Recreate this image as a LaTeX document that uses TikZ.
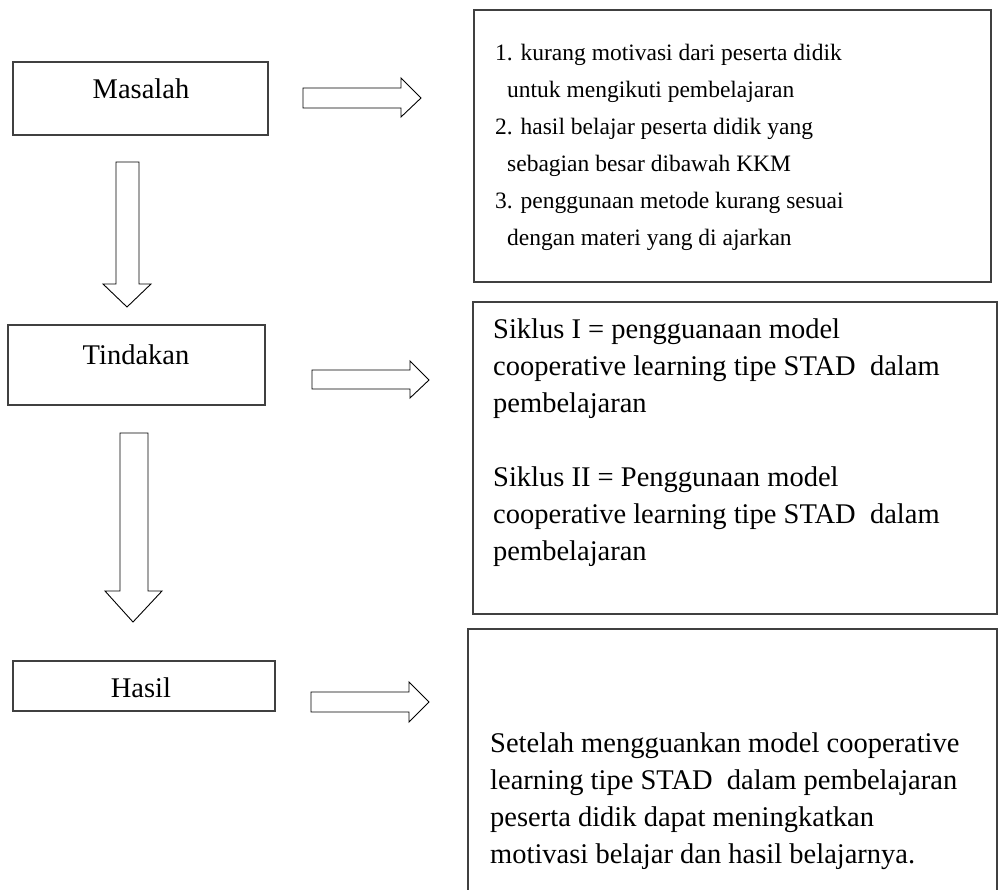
\documentclass[tikz,border=0pt]{standalone}
\usepackage{fontspec}
\setmainfont{Liberation Serif}
\begin{document}
\begin{tikzpicture}[x=1pt,y=-1pt,
  box/.style={draw=black!75, line width=1.4pt, outer sep=0pt, inner sep=0pt, anchor=north west},
  blockarrow/.style={draw=black, line width=0.9pt, fill=white, line join=miter},
  lbl/.style={font=\fontsize{28.5}{37}\selectfont, inner sep=0pt, anchor=base},
  para/.style={font=\fontsize{28.5}{37}\selectfont, inner sep=0pt, anchor=north west, align=left},
  smallpara/.style={para, font=\fontsize{23.5}{37}\selectfont}]
\clip (0,0) rectangle (998,890);
% left boxes
\node[box, minimum width=255pt, minimum height=73pt] (masalah) at (13,62) {};
\node[box, minimum width=257pt, minimum height=80pt] (tindakan) at (8,325) {};
\node[box, minimum width=262pt, minimum height=50pt] (hasil) at (13,661) {};
\node[lbl] (masalahT) at (141,99) {Masalah};
\node[lbl] (tindakanT) at (136,364) {Tindakan};
\node[lbl] (hasilT) at (141,697) {Hasil};
% right boxes
\node[box, minimum width=517pt, minimum height=272pt] (b1) at (474,10) {};
\node[box, minimum width=524pt, minimum height=312pt] (b2) at (473,302) {};
\node[box, minimum width=529pt, minimum height=280pt] (b3) at (468,629) {};
\node[smallpara] (b1T) at (495,36) {\rule{0pt}{24pt}1. kurang motivasi dari peserta didik\\
\hspace*{12pt}untuk mengikuti pembelajaran\\
2. hasil belajar peserta didik yang\\
\hspace*{12pt}sebagian besar dibawah KKM\\
3. penggunaan metode kurang sesuai\\
\hspace*{12pt}dengan materi yang di ajarkan};
\node[para] (b2T) at (493,314) {\rule{0pt}{24pt}Siklus I = pengguanaan model\\
cooperative learning tipe STAD\ \ dalam\\
pembelajaran\\[37pt]
Siklus II = Penggunaan model\\
cooperative learning tipe STAD\ \ dalam\\
pembelajaran};
\node[para] (b3T) at (490,728) {\rule{0pt}{24pt}Setelah mengguankan model cooperative\\
learning tipe STAD\ \ dalam pembelajaran\\
peserta didik dapat meningkatkan\\
motivasi belajar dan hasil belajarnya.};
% block arrows right
\draw[blockarrow] (303,88) -- (401,88) -- (401,78) -- (421,98) -- (401,117) -- (401,108) -- (303,108) -- cycle;
\draw[blockarrow] (312,370) -- (410,370) -- (410,361) -- (429,380) -- (410,398) -- (410,389) -- (312,389) -- cycle;
\draw[blockarrow] (311,692) -- (409,692) -- (409,682) -- (429,702) -- (409,722) -- (409,712) -- (311,712) -- cycle;
% block arrows down
\draw[blockarrow] (116,162) -- (139,162) -- (139,284) -- (151,284) -- (127,307) -- (103,284) -- (116,284) -- cycle;
\draw[blockarrow] (120,433) -- (148,433) -- (148,591) -- (162,591) -- (133,622) -- (105,591) -- (120,591) -- cycle;
\end{tikzpicture}
\end{document}
